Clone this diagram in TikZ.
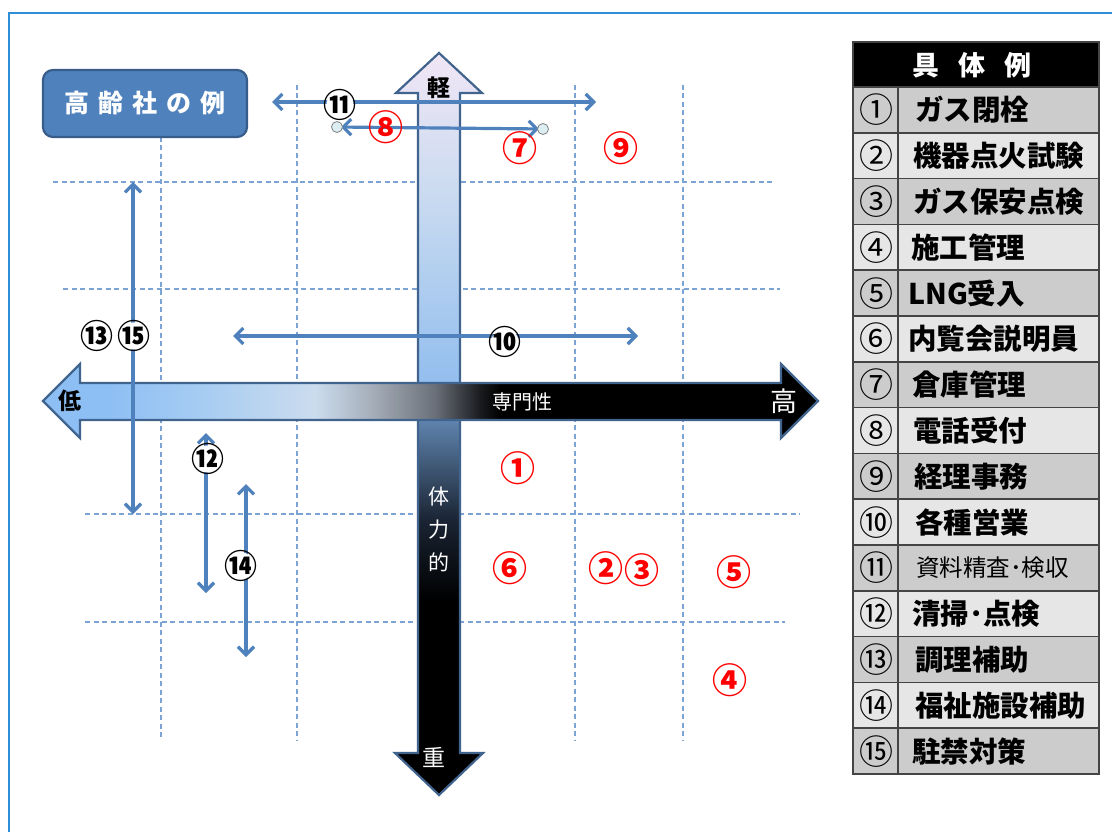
\documentclass[tikz,border=0pt]{standalone}
\usepackage{fontspec}
\newfontfamily\jp{Noto Sans CJK JP}
\usetikzlibrary{arrows.meta}
\definecolor{bluearrow}{HTML}{4F81BD}
\definecolor{gridc}{HTML}{7BA3D4}
\definecolor{bigborder}{HTML}{41648F}
\definecolor{titlefill}{HTML}{4F81BD}
\definecolor{titleborder}{HTML}{385D8A}
\definecolor{rowa}{HTML}{CCCCCC}
\definecolor{rowb}{HTML}{E6E6E6}
\definecolor{tline}{HTML}{444444}
\definecolor{framec}{HTML}{2E8FD8}
\definecolor{redn}{HTML}{FF0000}
\definecolor{handlefill}{HTML}{DCEEF2}
\definecolor{vA}{HTML}{F3E7F6}
\definecolor{vB}{HTML}{C8DAF0}
\definecolor{vC}{HTML}{8DBBEE}
\definecolor{vD}{HTML}{5F84AE}
\definecolor{vE}{HTML}{1A2433}
\definecolor{hA}{HTML}{8EBFF4}
\definecolor{hB}{HTML}{A6CCF2}
\definecolor{hC}{HTML}{CBDCEE}
\definecolor{hD}{HTML}{A3ABB6}
\definecolor{hE}{HTML}{6A7079}
\definecolor{hF}{HTML}{1C1E22}
\begin{document}
\begin{tikzpicture}[x=1pt,y=-1pt,
  gridline/.style={gridc, line width=1.1pt, dash pattern=on 5pt off 3.5pt},
  barrow/.style={bluearrow, line width=3.2pt,
     {Straight Barb[length=8pt,width=16pt]}-{Straight Barb[length=8pt,width=16pt]}},
  bigarrow/.style={draw=bigborder, line width=2.2pt, line join=miter},
  rednum/.style={font=\jp\bfseries\fontsize{35}{35}\selectfont, text=redn, inner sep=0pt},
  blknum/.style={font=\jp\bfseries\fontsize{33}{33}\selectfont, text=black, circle, fill=white, inner sep=-6.5pt},
  tnum/.style={font=\jp\fontsize{34}{34}\selectfont, inner sep=0pt},
  tbold/.style={font=\jp\bfseries\fontsize{28.5}{28.5}\selectfont, inner sep=0pt, anchor=west},
  tthin/.style={font=\jp\fontsize{23.5}{23.5}\selectfont, inner sep=0pt, anchor=west},
  handle/.style={draw=gray, fill=handlefill, line width=0.8pt}
]
\useasboundingbox (0,0) rectangle (1112,832);
\fill[white] (0,0) rectangle (1112,832);
% outer frame
\draw[framec, line width=1.6pt] (9,13) rectangle (1130,850);

% grid
\draw[gridline] (161,137) -- (161,740);
\draw[gridline] (297,85) -- (297,740);
\draw[gridline] (575,85) -- (575,740);
\draw[gridline] (683,85) -- (683,740);
\draw[gridline] (53,182) -- (775,182);
\draw[gridline] (63,289) -- (780,289);
\draw[gridline] (85,514) -- (800,514);
\draw[gridline] (85,622) -- (785,622);

% title box
\node[draw=titleborder, fill=titlefill, line width=2.2pt, rounded corners=10pt,
      minimum width=204pt, minimum height=67pt, inner sep=0pt,
      text=white, font=\jp\bfseries\fontsize{25}{25}\selectfont]
  (title) at (145,103.5) {高\hspace{9pt}齢\hspace{9pt}社\hspace{9pt}の\hspace{9pt}例};

% vertical big arrow
\def\varrow{(439,53) -- (482,93) -- (460,93) -- (460,753) -- (483,753) -- (439,795) -- (395,753) -- (418,753) -- (418,93) -- (396,93) -- cycle}
\begin{scope}
  \clip \varrow;
  \shade[top color=vA, bottom color=vB] (385,45) rectangle (495,200.5);
  \shade[top color=vB, bottom color=vC] (385,200) rectangle (495,402.5);
  \shade[top color=vC, bottom color=vD] (385,402) rectangle (495,420.5);
  \shade[top color=vD, bottom color=vE] (385,420) rectangle (495,520.5);
  \shade[top color=vE, bottom color=black] (385,520) rectangle (495,600.5);
  \fill[black] (385,600) rectangle (495,800);
\end{scope}
\draw[bigarrow] \varrow;

% horizontal big arrow
\def\harrow{(43,401) -- (80,364) -- (80,383) -- (781,383) -- (781,364) -- (818,401) -- (781,438) -- (781,420) -- (80,420) -- (80,438) -- cycle}
\begin{scope}
  \clip \harrow;
  \shade[left color=hA, right color=hA] (38,355) rectangle (110.5,445);
  \shade[left color=hA, right color=hB] (110,355) rectangle (200.5,445);
  \shade[left color=hB, right color=hC] (200,355) rectangle (315.5,445);
  \shade[left color=hC, right color=hD] (315,355) rectangle (375.5,445);
  \shade[left color=hD, right color=hE] (375,355) rectangle (435.5,445);
  \shade[left color=hE, right color=hF] (435,355) rectangle (478.5,445);
  \shade[left color=hF, right color=black] (478,355) rectangle (500.5,445);
  \fill[black] (500,355) rectangle (825,445);
\end{scope}
\draw[bigarrow] \harrow;

% arrow texts
\node[font=\jp\bfseries\fontsize{23}{23}\selectfont, inner sep=0pt] (low) at (70,401) {低};
\node[font=\jp\fontsize{27}{27}\selectfont, text=white, inner sep=0pt] (high) at (784,401) {高};
\node[font=\jp\fontsize{20}{20}\selectfont, text=white, inner sep=0pt] (senmon) at (522,402) {専門性};
\node[font=\jp\bfseries\fontsize{23}{23}\selectfont, inner sep=0pt] (light) at (439,88) {軽};
\node[font=\jp\fontsize{21}{21}\selectfont, text=white, inner sep=0pt] (tai) at (439,497) {体};
\node[font=\jp\fontsize{21}{21}\selectfont, text=white, inner sep=0pt] (ryoku) at (439,530) {力};
\node[font=\jp\fontsize{21}{21}\selectfont, text=white, inner sep=0pt] (teki) at (439,562) {的};
\node[font=\jp\fontsize{23}{23}\selectfont, text=white, inner sep=0pt] (heavy) at (434,757) {重};

% blue arrows
\coordinate (a11l) at (272,102);
\coordinate (a11r) at (596,102);
\coordinate (a8l) at (337,127);
\coordinate (a8r) at (543,129);
\coordinate (a10l) at (233,336);
\coordinate (a10r) at (638,336);
\coordinate (a13t) at (133,182);
\coordinate (a13b) at (133,514);
\coordinate (a12t) at (206,433);
\coordinate (a12b) at (206,593);
\coordinate (a14t) at (246,484);
\coordinate (a14b) at (246,657);
\draw[barrow] (a11l) -- (a11r);
\draw[barrow, shorten <=4pt, shorten >=4pt] (a8l) -- (a8r);
\draw[barrow] (a10l) -- (a10r);
\draw[barrow] (a13t) -- (a13b);
\draw[barrow] (a12t) -- (a12b);
\draw[barrow] (a14t) -- (a14b);
\draw[handle] (a8l) circle (5.5);
\draw[handle] (a8r) circle (5.5);

% black labels
\node[blknum] (n11) at (340,105) {⑪};
\node[blknum] (n10) at (505,342) {⑩};
\node[blknum] (n13) at (97,336) {⑬};
\node[blknum] (n15) at (134,336) {⑮};
\node[blknum] (n12) at (208,459) {⑫};
\node[blknum] (n14) at (241,566) {⑭};

% red labels
\node[rednum] (r8) at (386,127) {⑧};
\node[rednum] (r7) at (520,148) {⑦};
\node[rednum] (r9) at (621,148) {⑨};
\node[rednum] (r1) at (518,468) {①};
\node[rednum] (r6) at (510,568) {⑥};
\node[rednum] (r2) at (606,568) {②};
\node[rednum] (r3) at (642,570) {③};
\node[rednum] (r5) at (734,572) {⑤};
\node[rednum] (r4) at (730,680) {④};

% table
\fill[black] (853,42) rectangle (1099,87);
\node[font=\jp\bfseries\fontsize{27}{27}\selectfont, text=white, inner sep=0pt]
  (head) at (972,65) {具\hspace{19pt}体\hspace{19pt}例};
\foreach \i/\n/\t/\xs/\st in {
  1/①/ガス閉栓/915/tbold,
  2/②/機器点火試験/913/tbold,
  3/③/ガス保安点検/913/tbold,
  4/④/施工管理/911/tbold,
  5/⑤/LNG受入/908/tbold,
  6/⑥/内覧会説明員/908/tbold,
  7/⑦/倉庫管理/912/tbold,
  8/⑧/電話受付/913/tbold,
  9/⑨/経理事務/914/tbold,
  10/⑩/各種営業/915/tbold,
  11/⑪/資料精査･検収/916/tthin,
  12/⑫/清掃･点検/912/tbold,
  13/⑬/調理補助/915/tbold,
  14/⑭/福祉施設補助/915/tbold,
  15/⑮/駐禁対策/912/tbold}{
  \pgfmathsetmacro\ya{87+45.8*(\i-1)}
  \pgfmathsetmacro\yb{87+45.8*\i}
  \pgfmathsetmacro\yc{87+45.8*(\i-0.5)}
  \pgfmathparse{int(mod(\i,2))}
  \ifnum\pgfmathresult=1 \fill[rowa] (853,\ya) rectangle (1099,\yb);
  \else \fill[rowb] (853,\ya) rectangle (1099,\yb); \fi
  \node[tnum] (num\i) at (876,\yc) {\n};
  \node[\st] (txt\i) at (\xs,\yc) {\t};
}
\foreach \i in {0,...,14}{
  \pgfmathsetmacro\yl{87+45.8*\i}
  \draw[tline, line width=1.6pt] (853,\yl) -- (1099,\yl);
}
\draw[tline, line width=1.6pt] (898,87) -- (898,774);
\draw[tline, line width=1.6pt] (853,42) rectangle (1099,774);
\end{tikzpicture}
\end{document}
